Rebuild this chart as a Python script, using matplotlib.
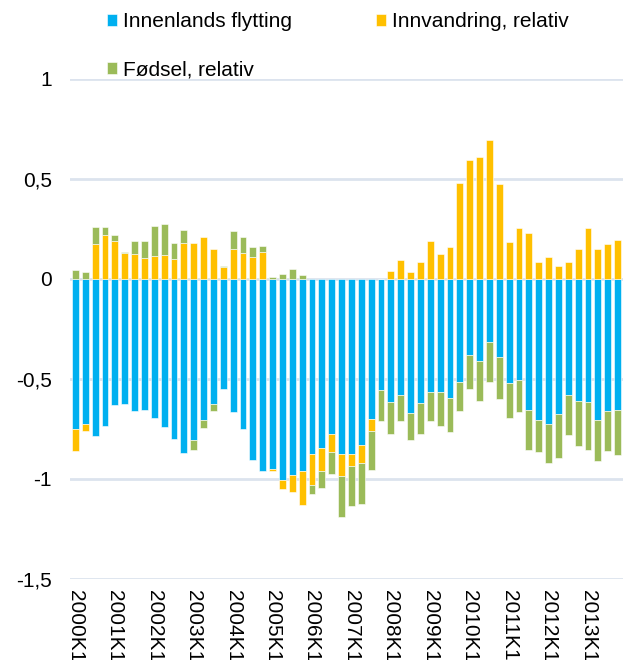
import matplotlib
matplotlib.use('Agg')
import matplotlib.pyplot as plt
import numpy as np

plt.rcParams['font.family'] = ['Liberation Sans', 'DejaVu Sans']

# quarterly, 2000K1 .. 2013K4
years = list(range(2000, 2014))
quarters = ['%dK%d' % (y, q) for y in years for q in range(1, 5)]

innenlands = [-0.75, -0.727, -0.783, -0.737, -0.632, -0.627, -0.66, -0.653,
              -0.697, -0.74, -0.80, -0.872, -0.805, -0.705, -0.625, -0.552,
              -0.667, -0.75, -0.903, -0.96, -0.95, -1.005, -0.982, -0.96,
              -0.875, -0.845, -0.773, -0.875, -0.875, -0.83, -0.70, -0.555,
              -0.615, -0.58, -0.67, -0.622, -0.567, -0.567, -0.593, -0.515,
              -0.378, -0.412, -0.313, -0.39, -0.522, -0.505, -0.655, -0.705,
              -0.727, -0.677, -0.58, -0.608, -0.617, -0.705, -0.66, -0.657]

innvandring = [-0.108, -0.032, 0.175, 0.22, 0.19, 0.13, 0.127, 0.105,
               0.113, 0.118, 0.10, 0.18, 0.18, 0.208, 0.148, 0.058,
               0.152, 0.13, 0.112, 0.137, -0.012, -0.045, -0.083, -0.168,
               -0.155, -0.113, -0.093, -0.11, -0.058, -0.088, -0.062, 0.0,
               0.04, 0.097, 0.037, 0.083, 0.188, 0.125, 0.158, 0.48,
               0.597, 0.608, 0.693, 0.473, 0.187, 0.257, 0.23, 0.087,
               0.108, 0.065, 0.085, 0.15, 0.257, 0.148, 0.177, 0.195]

fodsel = [0.045, 0.035, 0.083, 0.038, 0.03, 0.003, 0.062, 0.085,
          0.153, 0.157, 0.078, 0.065, -0.05, -0.038, -0.037, 0.007,
          0.09, 0.078, 0.05, 0.028, 0.01, 0.027, 0.048, 0.018,
          -0.045, -0.085, -0.108, -0.203, -0.202, -0.207, -0.193, -0.155,
          -0.162, -0.132, -0.137, -0.152, -0.145, -0.168, -0.17, -0.143,
          -0.172, -0.20, -0.203, -0.21, -0.172, -0.158, -0.202, -0.16,
          -0.192, -0.218, -0.202, -0.225, -0.24, -0.203, -0.20, -0.222]

series = [('Innenlands flytting', innenlands, '#00B0F0'),
          ('Innvandring, relativ', innvandring, '#FFC000'),
          ('Fødsel, relativ', fodsel, '#9BBB59')]

fs = 15

fig = plt.figure(figsize=(6.27, 6.6), dpi=100)
ax = fig.add_axes([70/627, 1-579/660, 553/627, 500/660])

x = np.arange(len(quarters))
pos_base = np.zeros(len(x))
neg_base = np.zeros(len(x))
handles = {}
for name, vals, col in series:
    v = np.array(vals)
    base = np.where(v >= 0, pos_base, neg_base)
    b = ax.bar(x, v, width=0.7, bottom=base, color=col, label=name,
               edgecolor='white', linewidth=0.4, zorder=3)
    handles[name] = b
    pos_base += np.where(v >= 0, v, 0)
    neg_base += np.where(v < 0, v, 0)

ax.set_xlim(-0.55, len(x) - 0.45)
ax.set_ylim(-1.5, 1.0)
ax.set_yticks([-1.5, -1, -0.5, 0, 0.5, 1])
ax.set_yticklabels(['-1,5', '-1', '-0,5', '0', '0,5', '1'])
ax.yaxis.grid(True, color='#dce3ee', linewidth=2, zorder=0)
ax.set_axisbelow(True)
for s in ax.spines.values():
    s.set_visible(False)
ax.tick_params(axis='y', length=0, pad=13, labelsize=fs)

# labels run off the bottom edge, as in the original
ax.set_xticks(x[::4])
ax.set_xticklabels(quarters[::4], rotation=-90, va='top', ha='center')
ax.tick_params(axis='x', length=0, pad=8, labelsize=fs)

order = ['Innenlands flytting', 'Fødsel, relativ', 'Innvandring, relativ']
leg = fig.legend([handles[n] for n in order], order, ncol=2,
                 loc='upper left', bbox_to_anchor=(107/627, 1-12/660),
                 frameon=False, fontsize=fs, handlelength=0.5,
                 handleheight=0.5, handletextpad=0.25, labelspacing=1.4,
                 columnspacing=4.05, borderpad=0, borderaxespad=0)

fig.savefig('out.png', dpi=100)
